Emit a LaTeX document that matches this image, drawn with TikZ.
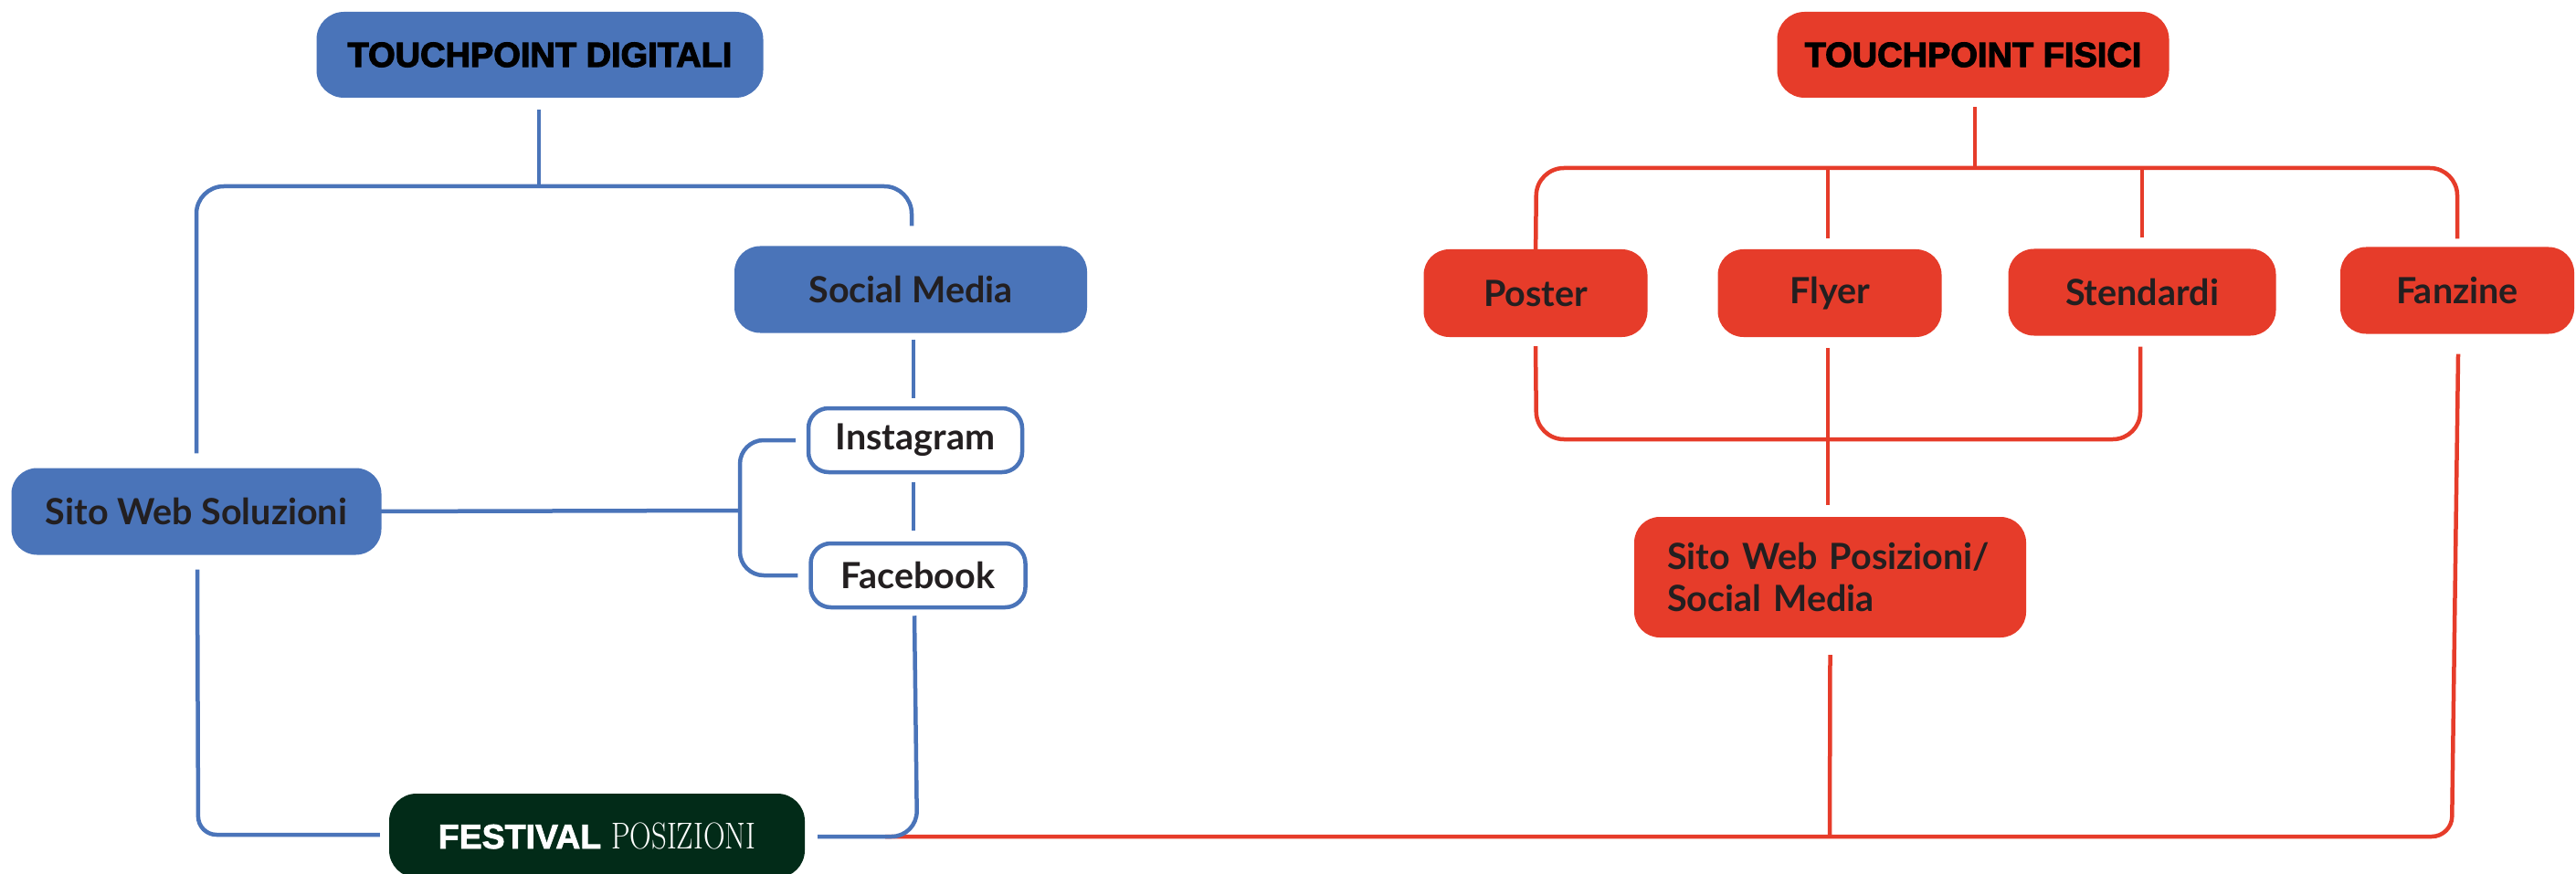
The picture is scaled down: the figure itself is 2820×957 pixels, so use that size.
\documentclass[tikz,border=0pt]{standalone}
\usepackage{graphicx}
\usepackage{fontspec}
\newfontfamily\labelfont{Lato}
\newfontfamily\heavyfont{Liberation Sans}[BoldFeatures={FakeBold=3}]
\newfontfamily\festfont{Liberation Sans}[BoldFeatures={FakeBold=2}]
\definecolor{cblue}{HTML}{4A74B9}
\definecolor{cred}{HTML}{E63C2A}
\definecolor{cgreen}{HTML}{022B18}
\definecolor{ctext}{HTML}{231F20}
\begin{document}
\begin{tikzpicture}[x=1pt,y=-1pt,
  blueline/.style={draw=cblue,line width=4.5pt},
  redline/.style={draw=cred,line width=4.5pt},
  lbl/.style={inner sep=0pt,text=ctext,font=\labelfont\bfseries\fontsize{39.5}{46}\selectfont},
  headbox/.style={inner sep=0pt,rounded corners=30pt,text=black,font=\heavyfont\bfseries\fontsize{38}{44}\selectfont},
  bluebox/.style={lbl,fill=cblue,rounded corners=28pt},
  redbox/.style={lbl,fill=cred,rounded corners=28pt},
  whitebox/.style={lbl,fill=white,draw=cblue,line width=4.5pt,rounded corners=22pt},
]
\useasboundingbox (0,0) rectangle (2820,957);
\fill[white] (0,0) rectangle (2820,957);

% ---- nodes ----
\node[headbox,fill=cblue,minimum width=489pt,minimum height=94pt] (td) at (591,60) {TOUCHPOINT DIGITALI};
\node[bluebox,minimum width=386pt,minimum height=95pt] (sm) at (997,317) {Social Media};
\node[bluebox,minimum width=405pt,minimum height=95pt] (sws) at (215,560) {Sito Web Soluzioni};
\node[whitebox,minimum width=234pt,minimum height=70pt] (ig) at (1002,482) {Instagram};
\node[whitebox,minimum width=235pt,minimum height=70pt] (fb) at (1005,630) {Facebook};
\node[fill=cgreen,rounded corners=30pt,inner sep=0pt,minimum width=455pt,minimum height=92pt,text=white] (fest) at (653.5,915)
  {{\festfont\bfseries\fontsize{37.5}{44}\selectfont FESTIVAL}\hspace{11pt}\scalebox{0.8}[1]{\rmfamily\fontsize{41}{44}\selectfont POSIZIONI}};

\node[headbox,fill=cred,minimum width=429pt,minimum height=94pt] (tf) at (2160,60) {TOUCHPOINT FISICI};
\node[redbox,minimum width=245pt,minimum height=96pt] (poster) at (1681,321) {Poster};
\node[redbox,minimum width=245pt,minimum height=96pt] (flyer) at (2003,321) {Flyer};
\node[redbox,minimum width=293pt,minimum height=95pt] (stend) at (2345,320) {Stendardi};
\node[redbox,minimum width=256pt,minimum height=95pt] (fanz) at (2690,318) {Fanzine};
\node[redbox,align=left,text width=357pt,inner xsep=36pt,minimum height=132pt] (spw) at (2003.5,632) {Sito Web Posizioni/\\Social Media};

% ---- red connectors ----
\draw[redline] ([yshift=-10pt]tf.south -| 2162,0) -- (2162,184);
\draw[redline,rounded corners=30pt] ([yshift=-12pt]poster.north) -- (1682,184) -- (2690,184) -- ([yshift=9pt]fanz.north -| 2690,0);
\draw[redline] ([yshift=12pt]flyer.north -| 2001,0) -- (2001,184);
\draw[redline] ([yshift=12pt]stend.north) -- (2345,184);
\draw[redline,rounded corners=30pt] ([yshift=-10pt]poster.south) -- (1682,481) -- (2343,481) -- ([yshift=-12pt]stend.south -| 2343,0);
\draw[redline] ([yshift=-12pt]flyer.south -| 2001,0) -- ([yshift=13pt]spw.north -| 2001,0);
\draw[redline] ([yshift=-19pt]spw.south) -- (2003,916);
\draw[redline,rounded corners=22pt] (969,916) -- (2684,916) -- ([yshift=-22pt]fanz.south -| 2691,0);

% ---- blue connectors ----
\draw[blueline] ([yshift=-13pt]td.south -| 590,0) -- (590,204);
\draw[blueline,rounded corners=30pt] ([yshift=16pt]sws.north) -- (215,204) -- (998,204) -- ([yshift=22pt]sm.north -| 998,0);
\draw[blueline] ([yshift=-7pt]sm.south -| 1000,0) -- ([yshift=9pt]ig.north -| 1000,0);
\draw[blueline] ([yshift=-9pt]ig.south -| 1000,0) -- ([yshift=12pt]fb.north -| 1000,0);
\draw[blueline] ([xshift=-21pt]sws.east) -- (810,559);
\draw[blueline,rounded corners=26pt] ([xshift=-12pt]ig.west) -- (810,482) -- (810,630) -- ([xshift=-12pt]fb.west);
\draw[blueline,rounded corners=28pt] ([yshift=-7pt]fb.south -| 1001,0) -- (1004,916) -- ([xshift=14pt]fest.east |- 0,916);
\draw[blueline,rounded corners=20pt] ([yshift=-16pt]sws.south -| 216,0) -- (217,914) -- ([xshift=-10pt]fest.west |- 0,914);
\end{tikzpicture}
\end{document}
